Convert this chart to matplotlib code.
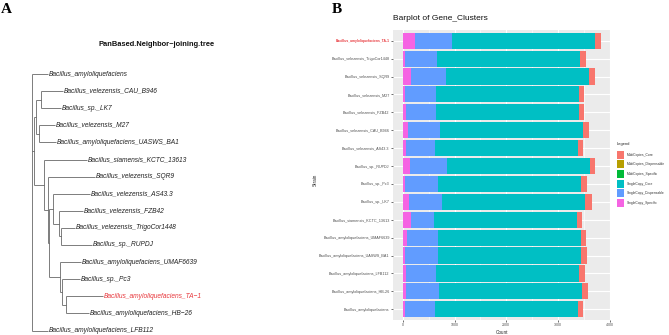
import matplotlib
matplotlib.use("Agg")
import matplotlib.pyplot as plt
import numpy as np
from matplotlib.patches import Rectangle
from matplotlib.ticker import MultipleLocator

plt.rcParams['font.family'] = ['Liberation Sans', 'DejaVu Sans']

# ---- panel A: neighbour-joining tree (branch lengths) ----
tree = ([
    ("Bacillus_amyloliquefaciens", 16),
    ([
        ([
            ([("Bacillus_velezensis_CAU_B946", 22.3), ("Bacillus_sp._LK7", 20.3)], 4.7),
            ([("Bacillus_velezensis_M27", 15.7), ("Bacillus_amyloliquefaciens_UASWS_BA1", 16.7)], 3.3),
        ], 2),
        ([
            ("Bacillus_siamensis_KCTC_13613", 42.7),
            ([
                ("Bacillus_velezensis_SQR9", 47.3),
                ([
                    ([("Bacillus_velezensis_AS43.3", 36.7),
                      ([("Bacillus_velezensis_FZB42", 23.7),
                        ([("Bacillus_velezensis_TrigoCor1448", 14.3), ("Bacillus_sp._RUPDJ", 31)], 1.4)], 6)], 4),
                    ([("Bacillus_amyloliquefaciens_UMAF6639", 20.7),
                      ([("Bacillus_sp._Pc3", 17.7),
                        ([("Bacillus_amyloliquefaciens_TA-1", 37.6),
                          ("Bacillus_amyloliquefaciens_HB-26", 23.6)], 3.4)], 2.3)], 10.7),
                ], 1.6),
            ], 3.4),
        ], 10.3),
    ], 2),
    ("Bacillus_amyloliquefaciens_LFB112", 16),
], 0)
highlight = "Bacillus_amyloliquefaciens_TA-1"

# ---- panel B: gene cluster counts per strain ----
strains = ["Bacillus_amyloliquefaciens_TA-1", "Bacillus_velezensis_TrigoCor1448",
           "Bacillus_velezensis_SQR9", "Bacillus_velezensis_M27", "Bacillus_velezensis_FZB42",
           "Bacillus_velezensis_CAU_B946", "Bacillus_velezensis_AS43.3", "Bacillus_sp._RUPDJ",
           "Bacillus_sp._Pc3", "Bacillus_sp._LK7", "Bacillus_siamensis_KCTC_13613",
           "Bacillus_amyloliquefaciens_UMAF6639", "Bacillus_amyloliquefaciens_UASWS_BA1",
           "Bacillus_amyloliquefaciens_LFB112", "Bacillus_amyloliquefaciens_HB-26",
           "Bacillus_amyloliquefaciens"]
sc_specific = [232, 39, 155, 39, 58, 90, 65, 129, 39, 110, 155, 71, 39, 52, 65, 32]
sc_dispensable = [716, 613, 671, 593, 574, 626, 548, 716, 645, 651, 439, 600, 632, 593, 638, 581]
sc_core = [2766, 2766, 2766, 2766, 2766, 2766, 2766, 2766, 2766, 2766, 2766, 2766, 2766, 2766, 2766, 2766]
mc_specific = [0, 0, 0, 0, 0, 0, 0, 0, 0, 0, 0, 0, 0, 0, 0, 0]
mc_dispensable = [3, 2, 3, 2, 2, 3, 2, 2, 2, 3, 2, 2, 2, 2, 2, 2]
mc_core = [116, 112, 119, 99, 99, 119, 105, 105, 112, 125, 99, 106, 112, 112, 105, 99]

series = [("SingleCopy_Specific", sc_specific, "#F564E3"),
          ("SingleCopy_Dispensable", sc_dispensable, "#619CFF"),
          ("SingleCopy_Core", sc_core, "#00BFC4"),
          ("MultiCopies_Specific", mc_specific, "#00BA38"),
          ("MultiCopies_Dispensable", mc_dispensable, "#B79F00"),
          ("MultiCopies_Core", mc_core, "#F8766D")]
legend_order = ["MultiCopies_Core", "MultiCopies_Dispensable", "MultiCopies_Specific",
                "SingleCopy_Core", "SingleCopy_Dispensable", "SingleCopy_Specific"]

W, H = 669, 335
fig = plt.figure(figsize=(W / 100, H / 100), dpi=100)

# ---------------- tree ----------------
axt = fig.add_axes([0, 0, 0.5, 1])
axt.axis('off')
tip_count = [0]
segs = []
tips = []


def layout(node, x):
    content, _ = node
    if isinstance(content, str):
        y = tip_count[0]
        tip_count[0] += 1
        tips.append((content, x, y))
        return y
    ys = []
    for child in content:
        cx = x + child[1]
        cy = layout(child, cx)
        segs.append(((x, cx), (cy, cy)))
        ys.append(cy)
    segs.append(((x, x), (min(ys), max(ys))))
    return (min(ys) + max(ys)) / 2


layout(tree, 0)
for xs, ys in segs:
    axt.plot(xs, ys, color='#5a5a5a', lw=0.55, solid_capstyle='butt')
for name, x, y in tips:
    col = '#E8383D' if name == highlight else '#222222'
    axt.text(x + 0.8, y, name.replace('-', '\u2212'), fontsize=4.8, style='italic',
             color=col, va='center', ha='left')
step = 17.1
axt.set_xlim(-32, 0.5 * W - 32)
axt.set_ylim((H - 74) / step, -74 / step)

fig.text(157 / W, 1 - 45 / H, "PanBased.Neighbor\u2212joining.tree", fontsize=5.4,
         fontweight='bold', ha='center', va='center', color='#111111')
fig.text(0.5 / W, 1 - 12.7 / H, "A", fontsize=11, fontweight='bold',
         family='Liberation Serif', ha='left', va='baseline')
fig.text(331.5 / W, 1 - 12.7 / H, "B", fontsize=11, fontweight='bold',
         family='Liberation Serif', ha='left', va='baseline')

# ---------------- barplot ----------------
ax = fig.add_axes([393 / W, 1 - 320 / H, 218 / W, 290 / H])
ax.set_facecolor('#EBEBEB')
for s in ax.spines.values():
    s.set_visible(False)
ypos = np.arange(len(strains))
left = np.zeros(len(strains))
for name, vals, col in series:
    v = np.array(vals, dtype=float)
    ax.barh(ypos, v, left=left, height=0.9, color=col, lw=0, zorder=3)
    left += v

total_max = left.max()
ax.set_xlim(-0.05 * total_max, total_max * 1.05)
ax.set_ylim(len(strains) - 0.4, -0.6)
ax.xaxis.set_major_locator(MultipleLocator(1000))
ax.xaxis.set_minor_locator(MultipleLocator(500))
ax.set_yticks(ypos)
ax.set_yticklabels(strains)
ax.grid(which='major', color='white', lw=0.8, zorder=0)
ax.grid(which='minor', axis='x', color='white', lw=0.4, zorder=0)
ax.set_axisbelow(True)
ax.tick_params(axis='both', which='major', length=1.6, width=0.5, color='#333333',
               labelsize=2.7, labelcolor='#4D4D4D', pad=0.8)
ax.tick_params(axis='x', labelsize=2.5)
ax.tick_params(which='minor', length=0)
for lab in ax.get_yticklabels():
    if lab.get_text() == highlight:
        lab.set_color('#E8383D')
        lab.set_fontweight('bold')
        lab.set_fontsize(2.4)
ax.set_xlabel("Count", fontsize=3.3, color='#222222')
ax.xaxis.set_label_coords(0.5, -0.035)
ax.set_ylabel("Strain", fontsize=3.3, color='#222222')
ax.yaxis.set_label_coords(-0.344, 0.485)
fig.text(393 / W, 1 - 19 / H, "Barplot of Gene_Clusters", fontsize=6.0,
         ha='left', va='center', color='#111111')

# ---------------- legend ----------------
axl = fig.add_axes([0, 0, 1, 1], facecolor='none')
axl.axis('off')
axl.set_xlim(0, W)
axl.set_ylim(H, 0)
axl.text(617, 144, "Legend", fontsize=2.9, va='center', ha='left', color='#222222')
colors = {n: c for n, _, c in series}
for i, name in enumerate(legend_order):
    yc = 154.7 + i * 9.67
    axl.add_patch(Rectangle((617.3, yc - 4), 6.7, 8, facecolor=colors[name], lw=0))
    axl.text(626.7, yc, name, fontsize=2.4, va='center', ha='left', color='#333333')

fig.savefig("out.png", dpi=100)
